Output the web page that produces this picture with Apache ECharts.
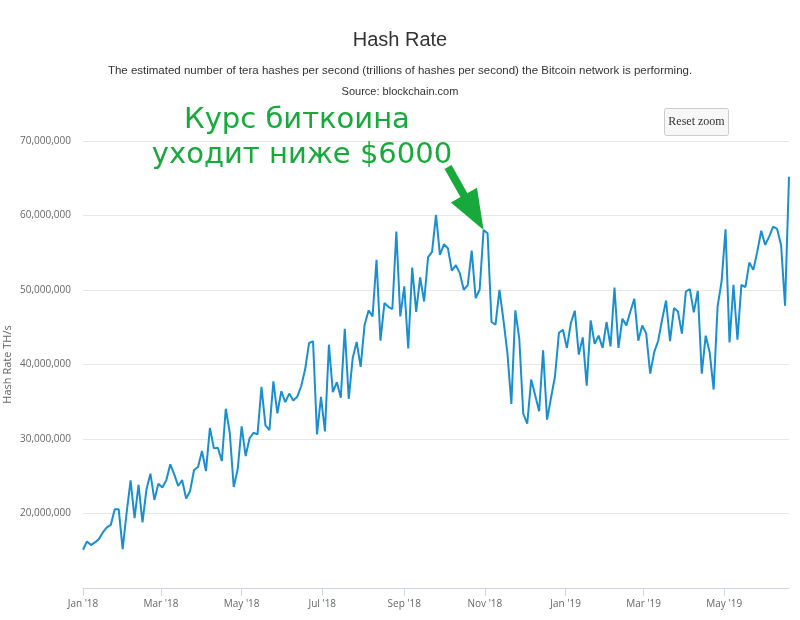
<!DOCTYPE html>
<html><head><meta charset="utf-8">
<script src="https://cdn.jsdelivr.net/npm/echarts@6/dist/echarts.min.js"></script>
<style>html,body{margin:0;padding:0;background:#fff}#c{width:800px;height:620px}</style>
</head><body><div id="c"></div>
<script>
// Sampling grid of the series (days since 1 Jan 2018, one reading every 3 days)
const startDate = '2018-01-01';
const sampleStepDays = 3;
// Hash rate, millions of TH/s
const hashRateMillions = [
15.13,16.25,15.76,16.12,16.56,17.46,18.13,18.47,20.58,20.58,
15.22,20.13,24.46,19.37,23.83,18.8,23.25,25.35,21.82,24.0,
23.48,24.46,26.6,25.26,23.7,24.5,22.0,23.03,25.84,26.24,
28.38,25.7,31.5,28.74,28.83,27.04,34.06,30.84,23.56,25.93,
31.69,27.71,30.1,30.84,30.62,37.0,31.82,31.19,37.75,33.43,
36.41,34.94,36.1,35.17,35.66,37.08,39.32,42.89,43.1,30.62,
35.66,31.02,42.66,36.28,37.62,35.53,44.8,35.39,40.88,43.02,
39.68,45.34,47.26,46.45,54.05,43.2,48.25,47.75,47.44,57.85,
46.45,50.5,42.15,53.0,47.05,51.68,48.46,54.4,55.11,60.07,
54.71,56.14,55.6,52.61,53.33,52.26,50.03,50.66,55.29,48.92,
50.03,58.06,57.62,45.7,45.34,50.03,46.0,41.55,34.72,47.26,
43.43,33.39,32.05,37.98,35.88,33.73,41.9,32.6,35.53,38.42,
44.27,44.67,42.22,45.57,47.22,41.33,43.64,37.17,45.92,42.76,
43.87,42.22,45.7,42.44,50.34,42.22,46.14,45.25,47.12,48.82,
43.2,45.25,44.14,38.77,41.62,43.15,46.0,48.59,43.15,47.57,
47.12,44.14,49.8,50.12,46.99,49.89,38.78,43.87,41.63,36.64,
47.8,51.14,58.15,42.97,50.7,43.33,50.7,50.39,53.68,52.7,
55.15,57.96,56.05,57.16,58.5,58.19,56.05,47.89,65.2
];
const xTickDays = [0,59,120,181,243,304,365,424,485];
const xTickLabels = ["Jan '18","Mar '18","May '18","Jul '18","Sep '18","Nov '18","Jan '19","Mar '19","May '19"];
const yMin = 10, yMax = 70, yStep = 10;
const annotationLines = ['Курс биткоина', 'уходит ниже $6000'];
const annotationIndex = 101; // the point the arrow points at

const chart = echarts.init(document.getElementById('c'), null, {renderer: 'canvas'});
const seriesData = hashRateMillions.map((v, i) => [i * sampleStepDays, v]);
const lastDay = (hashRateMillions.length - 1) * sampleStepDays;

chart.setOption({
  animation: false,
  backgroundColor: '#fff',
  title: [
    {text: 'Hash Rate', left: 'center', top: 25,
     textStyle: {fontFamily: 'Liberation Sans, Arial, sans-serif', fontSize: 20, fontWeight: 'normal', color: '#333'}},
    {text: 'The estimated number of tera hashes per second (trillions of hashes per second) the Bitcoin network is performing.',
     left: 'center', top: 60,
     textStyle: {fontFamily: 'Liberation Sans, Arial, sans-serif', fontSize: 11.5, fontWeight: 'normal', color: '#333'}},
    {text: 'Source: blockchain.com', left: 'center', top: 81,
     textStyle: {fontFamily: 'Liberation Sans, Arial, sans-serif', fontSize: 11, fontWeight: 'normal', color: '#333'}}
  ],
  grid: {left: 83, right: 11, top: 141, bottom: 32, containLabel: false, outerBoundsMode: 'none'},
  xAxis: {
    type: 'value', min: 0, max: lastDay,
    axisLine: {show: true, lineStyle: {color: '#ccd6eb', width: 1}},
    axisTick: {show: true, customValues: xTickDays, length: 8, lineStyle: {color: '#ccd6eb'}},
    axisLabel: {customValues: xTickDays, formatter: v => xTickLabels[xTickDays.indexOf(v)] || '',
      color: '#666', fontSize: 10, fontFamily: 'Open Sans, sans-serif', margin: 11},
    splitLine: {show: false}
  },
  yAxis: {
    type: 'value', min: yMin, max: yMax, interval: yStep,
    name: 'Hash Rate TH/s', nameLocation: 'middle', nameGap: 70, nameRotate: 90, nameMoveOverlap: false,
    nameTextStyle: {color: '#666', fontSize: 11, fontFamily: 'Open Sans, sans-serif'},
    axisLine: {show: false}, axisTick: {show: false},
    axisLabel: {showMinLabel: false, color: '#666', fontSize: 10, fontFamily: 'Open Sans, sans-serif', margin: 12,
      formatter: v => (v * 1e6).toLocaleString('en-US')},
    splitLine: {lineStyle: {color: '#e6e6e6', width: 1}}
  },
  series: [{
    type: 'line', data: seriesData, showSymbol: false, symbol: 'none',
    lineStyle: {color: '#1a8fcf', width: 2}, z: 3
  }]
});

// Annotation arrow aimed at the data point
const tip = chart.convertToPixel({gridIndex: 0}, [annotationIndex * sampleStepDays, hashRateMillions[annotationIndex]]);
const S = [448, 167];
const dx = tip[0] - S[0], dy = tip[1] - S[1];
const len = Math.sqrt(dx * dx + dy * dy);
const ux = dx / len, uy = dy / len, px = -uy, py = ux;
const headLen = 40, headHalf = 15;
const B = [tip[0] - headLen * ux, tip[1] - headLen * uy];
const green = '#17a93b';

chart.setOption({
  graphic: [
    {type: 'text', x: 297, y: 120, style: {text: annotationLines[0], fill: green,
      font: '29px "DejaVu Sans", sans-serif', textAlign: 'center', textVerticalAlign: 'middle'}, z: 10},
    {type: 'text', x: 302, y: 155, style: {text: annotationLines[1], fill: green,
      font: '29px "DejaVu Sans", sans-serif', textAlign: 'center', textVerticalAlign: 'middle'}, z: 10},
    {type: 'line', shape: {x1: S[0], y1: S[1], x2: B[0] + ux * 2, y2: B[1] + uy * 2},
      style: {stroke: green, lineWidth: 8}, z: 10},
    {type: 'polygon', shape: {points: [[tip[0], tip[1]], [B[0] + headHalf * px, B[1] + headHalf * py], [B[0] - headHalf * px, B[1] - headHalf * py]]},
      style: {fill: green}, z: 10},
    {type: 'group', x: 664, y: 108, z: 10, children: [
      {type: 'rect', shape: {x: 0.5, y: 0.5, width: 64, height: 27, r: 2}, style: {fill: '#f7f7f7', stroke: '#cccccc', lineWidth: 1}},
      {type: 'text', x: 32.5, y: 14, style: {text: 'Reset zoom', fill: '#333', font: '12px "Liberation Serif", serif', textAlign: 'center', textVerticalAlign: 'middle'}}
    ]}
  ]
});
</script></body></html>
